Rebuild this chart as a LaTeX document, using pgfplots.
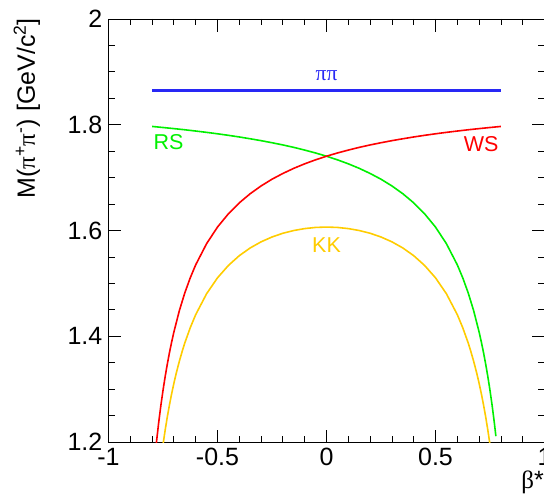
\documentclass[border=0pt]{standalone}
\usepackage{fontspec}
\setmainfont{Liberation Sans}
\newfontfamily\symbolfont{Liberation Serif}
\usepackage{pgfplots}
\pgfplotsset{compat=1.18}

\definecolor{pipiblue}{RGB}{40,40,245}
\definecolor{rsgreen}{RGB}{0,240,0}
\definecolor{wsred}{RGB}{255,0,0}
\definecolor{kkyellow}{RGB}{255,204,0}

\newcommand{\labfont}{\fontsize{25}{30}\selectfont}
\newcommand{\curvefont}{\fontsize{21.5}{26}\selectfont}

\begin{document}
\begin{tikzpicture}
\useasboundingbox (-108.5pt,-54pt) rectangle (435.5pt,442pt);
\begin{axis}[
  at={(0pt,0pt)}, anchor=south west,
  scale only axis, width=436pt, height=423pt,
  xmin=-1, xmax=1, ymin=1.2, ymax=2,
  xtick={-1,-0.5,0,0.5,1}, xticklabels={-1,-0.5,0,0.5,1},
  ytick={1.2,1.4,1.6,1.8,2}, yticklabels={1.2,1.4,1.6,1.8,2},
  minor x tick num=4, minor y tick num=3,
  tick align=inside, major tick length=12.5pt, minor tick length=6pt,
  axis line style={line width=0.8pt},
  every tick/.style={black, line width=0.8pt},
  tick label style={font=\labfont, inner sep=0pt},
  xticklabel style={yshift=-6pt},
  yticklabel style={xshift=-6pt},
]

% D0 -> pi pi: true mass
\addplot[pipiblue, line width=2.2pt] coordinates {(-0.8,1.8648) (0.8,1.8648)};

% D0 -> K- pi+ (right sign), kaon taken as pion
\addplot[rsgreen, line width=1.6pt] coordinates {
  (-0.80,1.7968) (-0.75,1.7948) (-0.70,1.7927) (-0.65,1.7905) (-0.60,1.7881)
  (-0.55,1.7856) (-0.50,1.7829) (-0.45,1.7800) (-0.40,1.7769) (-0.35,1.7735)
  (-0.30,1.7699) (-0.25,1.7660) (-0.20,1.7618) (-0.15,1.7572) (-0.10,1.7521)
  (-0.05,1.7466) (0.00,1.7405) (0.05,1.7337) (0.10,1.7261) (0.15,1.7176)
  (0.20,1.7079) (0.25,1.6970) (0.30,1.6843) (0.35,1.6696) (0.40,1.6523)
  (0.45,1.6316) (0.50,1.6065) (0.55,1.5751) (0.60,1.5351) (0.625,1.5105)
  (0.65,1.4820) (0.675,1.4484) (0.70,1.4081) (0.71,1.3897) (0.72,1.3697)
  (0.73,1.3478) (0.74,1.3239) (0.75,1.2976) (0.76,1.2685) (0.77,1.2360)
  (0.777,1.2110)};

% D0 -> K+ pi- (wrong sign), kaon taken as pion
\addplot[wsred, line width=1.6pt] coordinates {
  (-0.79,1.1585) (-0.78,1.1996) (-0.77,1.2360) (-0.76,1.2685) (-0.75,1.2976)
  (-0.74,1.3239) (-0.73,1.3478) (-0.72,1.3697) (-0.71,1.3897) (-0.70,1.4081)
  (-0.675,1.4484) (-0.65,1.4820) (-0.625,1.5105) (-0.60,1.5351) (-0.55,1.5751)
  (-0.50,1.6065) (-0.45,1.6316) (-0.40,1.6523) (-0.35,1.6696) (-0.30,1.6843)
  (-0.25,1.6970) (-0.20,1.7079) (-0.15,1.7176) (-0.10,1.7261) (-0.05,1.7337)
  (0.00,1.7405) (0.05,1.7466) (0.10,1.7521) (0.15,1.7572) (0.20,1.7618)
  (0.25,1.7660) (0.30,1.7699) (0.35,1.7735) (0.40,1.7769) (0.45,1.7800)
  (0.50,1.7829) (0.55,1.7856) (0.60,1.7881) (0.65,1.7905) (0.70,1.7927)
  (0.75,1.7948) (0.80,1.7968)};

% D0 -> K K, both kaons taken as pions
\addplot[kkyellow, line width=1.6pt] coordinates {
  (-0.75,1.1948) (-0.74,1.2227) (-0.73,1.2480) (-0.72,1.2709) (-0.71,1.2919)
  (-0.70,1.3111) (-0.69,1.3288) (-0.675,1.3528) (-0.66,1.3742) (-0.65,1.3873)
  (-0.625,1.4162) (-0.60,1.4409) (-0.55,1.4804) (-0.50,1.5105) (-0.45,1.5339)
  (-0.40,1.5524) (-0.35,1.5670) (-0.30,1.5786) (-0.25,1.5877) (-0.20,1.5948)
  (-0.15,1.6000) (-0.10,1.6036) (-0.05,1.6058) (0.00,1.6065) (0.05,1.6058)
  (0.10,1.6036) (0.15,1.6000) (0.20,1.5948) (0.25,1.5877) (0.30,1.5786)
  (0.35,1.5670) (0.40,1.5524) (0.45,1.5339) (0.50,1.5105) (0.55,1.4804)
  (0.60,1.4409) (0.625,1.4162) (0.65,1.3873) (0.66,1.3742) (0.675,1.3528)
  (0.69,1.3288) (0.70,1.3111) (0.71,1.2919) (0.72,1.2709) (0.73,1.2480)
  (0.74,1.2227) (0.75,1.1948)};

\node[text=pipiblue, anchor=base, inner sep=0pt, font=\curvefont] at (axis cs:0,1.8846) {\symbolfont ππ};
\node[text=rsgreen, anchor=base west, inner sep=0pt, font=\curvefont] at (axis cs:-0.794,1.7541) {RS};
\node[text=wsred, anchor=base east, inner sep=0pt, font=\curvefont] at (axis cs:0.790,1.7485) {WS};
\node[text=kkyellow, anchor=base, inner sep=0pt, font=\curvefont] at (axis cs:0,1.5588) {KK};
\end{axis}

% axis titles
\node[rotate=90, anchor=base east, inner sep=0pt, font=\labfont] at (-73.5pt,424pt)
  {M({\symbolfont π}\textsuperscript{+}{\symbolfont π}\textsuperscript{-}) [GeV/c\textsuperscript{2}]};
\node[anchor=base east, inner sep=0pt, font=\labfont] at (435.5pt,-46pt) {{\symbolfont β}*};
\end{tikzpicture}
\end{document}
